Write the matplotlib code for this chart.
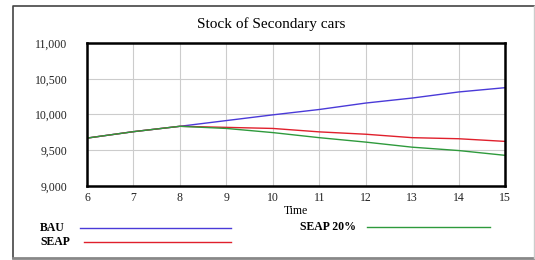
import matplotlib
matplotlib.use("Agg")
import matplotlib.pyplot as plt
from matplotlib.lines import Line2D

# Data
time = [6, 7, 8, 9, 10, 11, 12, 13, 14, 15]
bau = [9670, 9760, 9835, 9915, 9995, 10070, 10160, 10230, 10315, 10375]
seap = [9670, 9760, 9835, 9820, 9805, 9757, 9724, 9676, 9661, 9624]
seap20 = [9670, 9760, 9835, 9805, 9747, 9676, 9614, 9543, 9496, 9429]
series_names = ["BAU", "SEAP", "SEAP 20%"]
series_colors = ["#4a3ad8", "#e0202c", "#2e9a3c"]
y_ticks = [9000, 9500, 10000, 10500, 11000]
y_labels = ["9,000", "9,500", "10,000", "10,500", "11,000"]

plt.rcParams['font.family'] = ['Liberation Serif', 'DejaVu Serif']

W, H = 535, 260
fig = plt.figure(figsize=(W / 100, H / 100), dpi=100)

def fx(px):
    return px / W

def fy(py):
    return 1 - py / H

def fline(xs, ys, color, lw):
    fig.add_artist(Line2D([fx(v) for v in xs], [fy(v) for v in ys], color=color,
                          linewidth=lw, transform=fig.transFigure))

# outer frame (right side is faint in the original)
fline([13, 13, 534], [258, 6, 6], "#444444", 1.2)
fline([13, 534], [258, 258], "#888888", 2.0)
fline([534, 534], [6, 258], "#cccccc", 1.0)

ax = fig.add_axes([fx(87), fy(186), fx(505) - fx(87), fy(43) - fy(186)])
for vals, color in zip([bau, seap, seap20], series_colors):
    ax.plot(time, vals, color=color, linewidth=1.0)

ax.set_xlim(6, 15)
ax.set_ylim(9000, 11000)
ax.set_xticks(time)
ax.set_yticks(y_ticks)
ax.set_yticklabels(y_labels)
ax.grid(True, color="#cccccc", linewidth=0.8)
ax.tick_params(length=0, labelsize=8.5, colors="#222222")
ax.tick_params(axis="y", pad=14)
ax.tick_params(axis="x", pad=4)
for sp in ax.spines.values():
    sp.set_linewidth(1.8)
    sp.set_color("black")
ax.set_xlabel("Time", fontsize=8.5, labelpad=1)

fig.text(fx(271), fy(24), "Stock of Secondary cars", ha="center", va="center",
         fontsize=11)

# legend drawn by hand
legend_pos = [(40, 80, 231, 228), (40, 84, 231, 242), (300, 367, 490, 227)]
for name, color, (tx, x0, x1, py) in zip(series_names, series_colors, legend_pos):
    fig.text(fx(tx), fy(py), name, ha="left", va="center", fontsize=8.5,
             fontweight="bold")
    fline([x0, x1], [py, py], color, 1.0)

fig.savefig("out.png", dpi=100)
